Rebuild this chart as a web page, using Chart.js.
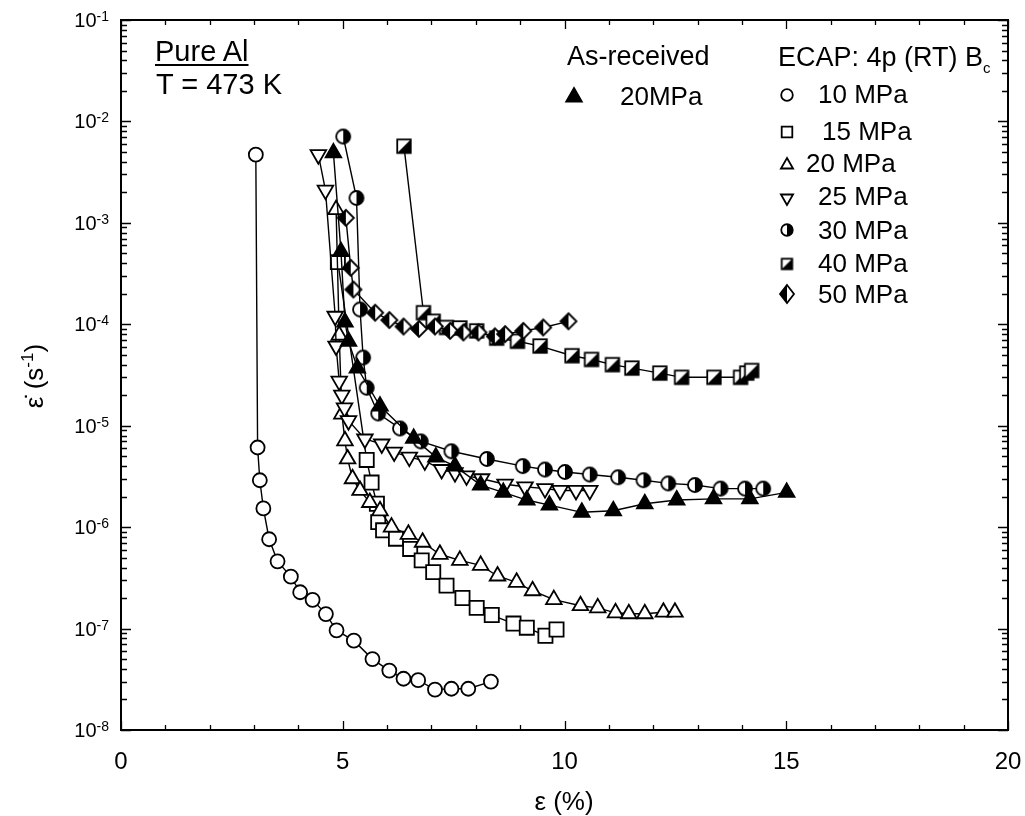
<!DOCTYPE html>
<html><head><meta charset="utf-8">
<script src="https://cdn.jsdelivr.net/npm/chart.js@4/dist/chart.umd.min.js"></script>
<style>
body{margin:0;background:#fff;}
#wrap{position:relative;width:1025px;height:816px;overflow:hidden;font-family:"Liberation Sans",Arial,sans-serif;color:#000;background:#fff;}
#wrap canvas{position:absolute;left:0;top:0;}
.t{position:absolute;white-space:nowrap;line-height:1;}
</style></head>
<body><div id="wrap"><canvas id="c" width="1025" height="816"></canvas></div>
<script>
// ---------- DATA ----------
const xTickValues = [0, 5, 10, 15, 20];
const yDecadeExponents = [-8, -7, -6, -5, -4, -3, -2, -1];

const eps10  = [3.04,3.08,3.13,3.21,3.34,3.53,3.83,4.04,4.32,4.62,4.86,5.25,5.67,6.05,6.37,6.70,7.08,7.45,7.83,8.34];
const rate10 = [4.7e-3,6.1e-6,2.9e-6,1.53e-6,7.6e-7,4.6e-7,3.25e-7,2.28e-7,1.92e-7,1.39e-7,9.6e-8,7.6e-8,5.0e-8,3.85e-8,3.2e-8,3.1e-8,2.5e-8,2.55e-8,2.55e-8,3.0e-8];

const eps15  = [4.89,5.54,5.65,5.77,5.80,5.91,6.20,6.52,6.78,7.04,7.34,7.70,8.02,8.36,8.85,9.15,9.57,9.82];
const rate15 = [4.1e-4,4.6e-6,2.75e-6,1.7e-6,1.12e-6,9.3e-7,7.7e-7,6.1e-7,4.7e-7,3.6e-7,2.65e-7,2.0e-7,1.6e-7,1.36e-7,1.12e-7,1.02e-7,8.5e-8,9.8e-8];

const eps20  = [4.85,4.92,4.98,5.05,5.11,5.22,5.39,5.61,5.84,6.10,6.48,6.80,7.19,7.64,8.11,8.49,8.92,9.28,9.76,10.36,10.75,11.15,11.45,11.81,12.23,12.49];
const rate20 = [1.35e-3,7.8e-5,1.3e-5,7.1e-6,4.7e-6,3.0e-6,2.3e-6,1.75e-6,1.45e-6,1.0e-6,8.5e-7,7.1e-7,5.4e-7,4.7e-7,4.2e-7,3.3e-7,2.86e-7,2.36e-7,1.93e-7,1.68e-7,1.6e-7,1.43e-7,1.4e-7,1.4e-7,1.45e-7,1.45e-7];

const eps25  = [4.45,4.61,4.83,4.85,4.92,4.98,5.04,5.13,5.50,5.88,6.16,6.50,6.85,7.23,7.53,7.79,8.13,8.66,9.11,9.56,9.90,10.26,10.57];
const rate25 = [4.7e-3,2.1e-3,1.2e-4,6.1e-5,2.75e-5,2.0e-5,1.5e-5,1.12e-5,7.4e-6,6.6e-6,5.5e-6,4.9e-6,4.5e-6,3.7e-6,3.45e-6,3.2e-6,3.0e-6,2.65e-6,2.5e-6,2.4e-6,2.3e-6,2.3e-6,2.3e-6];

const eps30  = [5.01,5.31,5.39,5.46,5.54,5.80,6.29,6.76,7.45,8.25,9.06,9.56,10.01,10.57,11.21,11.78,12.34,12.94,13.52,14.07,14.48];
const rate30 = [7.1e-3,1.76e-3,1.4e-4,4.7e-5,2.37e-5,1.32e-5,9.4e-6,7.0e-6,5.6e-6,4.7e-6,4.0e-6,3.7e-6,3.5e-6,3.3e-6,3.1e-6,2.9e-6,2.7e-6,2.6e-6,2.4e-6,2.4e-6,2.4e-6];

const eps40  = [6.38,6.82,7.04,7.34,7.64,8.02,8.47,8.94,9.45,10.17,10.61,11.08,11.52,12.15,12.64,13.37,13.97,14.11,14.22];
const rate40 = [5.7e-3,1.3e-4,1.07e-4,9.3e-5,9.2e-5,8.6e-5,7.3e-5,6.8e-5,6.1e-5,4.9e-5,4.5e-5,4.0e-5,3.7e-5,3.3e-5,3.0e-5,3.0e-5,3.0e-5,3.3e-5,3.5e-5];

const eps50  = [5.07,5.18,5.24,5.73,6.05,6.37,6.72,7.08,7.42,7.72,8.06,8.43,8.66,9.07,9.52,10.09];
const rate50 = [1.12e-3,3.6e-4,2.2e-4,1.3e-4,1.1e-4,9.5e-5,9.0e-5,9.5e-5,8.6e-5,8.3e-5,8.3e-5,7.6e-5,8.0e-5,8.6e-5,9.3e-5,1.07e-4];

const epsAR  = [4.79,4.96,5.05,5.13,5.33,5.84,6.6,7.1,7.53,8.11,8.62,9.15,9.66,10.39,11.10,11.81,12.53,13.36,14.18,15.01];
const rateAR = [4.9e-3,5.2e-4,1.05e-4,6.8e-5,3.7e-5,1.56e-5,7.5e-6,4.9e-6,4.0e-6,2.6e-6,2.2e-6,1.85e-6,1.65e-6,1.4e-6,1.45e-6,1.7e-6,1.85e-6,1.9e-6,1.9e-6,2.2e-6];

const ecapLabels = ['10 MPa','15 MPa','20 MPa','25 MPa','30 MPa','40 MPa','50 MPa'];
const asReceivedLabel = '20MPa';

// ---------- marker images ----------
function mk(s){const c=document.createElement('canvas');c.width=c.height=s;return c;}
function halfCircle(d,lw){
  const s=Math.ceil(d+lw+2), c=mk(s), g=c.getContext('2d'), r=d/2, cx=s/2, cy=s/2;
  g.beginPath();g.arc(cx,cy,r,0,2*Math.PI);g.fillStyle='#fff';g.fill();
  g.beginPath();g.moveTo(cx,cy-r);g.arc(cx,cy,r,-Math.PI/2,Math.PI/2);g.closePath();g.fillStyle='#000';g.fill();
  g.beginPath();g.arc(cx,cy,r,0,2*Math.PI);g.lineWidth=lw;g.strokeStyle='#000';g.stroke();
  return c;
}
function halfSquare(a,lw){
  const s=Math.ceil(a+lw+2), c=mk(s), g=c.getContext('2d'), x0=(s-a)/2, y0=(s-a)/2;
  g.fillStyle='#fff';g.fillRect(x0,y0,a,a);
  g.beginPath();g.moveTo(x0,y0+a);g.lineTo(x0+a,y0+a);g.lineTo(x0+a,y0);g.closePath();g.fillStyle='#000';g.fill();
  g.lineWidth=lw;g.strokeStyle='#000';g.strokeRect(x0,y0,a,a);
  return c;
}
function halfDiamond(w,h,lw){
  const s=Math.ceil(Math.max(w,h)+lw+2), c=mk(s), g=c.getContext('2d'), cx=s/2, cy=s/2;
  g.beginPath();g.moveTo(cx,cy-h/2);g.lineTo(cx+w/2,cy);g.lineTo(cx,cy+h/2);g.lineTo(cx-w/2,cy);g.closePath();
  g.fillStyle='#fff';g.fill();
  g.beginPath();g.moveTo(cx,cy-h/2);g.lineTo(cx,cy+h/2);g.lineTo(cx-w/2,cy);g.closePath();g.fillStyle='#000';g.fill();
  g.beginPath();g.moveTo(cx,cy-h/2);g.lineTo(cx+w/2,cy);g.lineTo(cx,cy+h/2);g.lineTo(cx-w/2,cy);g.closePath();
  g.lineWidth=lw;g.strokeStyle='#000';g.lineJoin='miter';g.stroke();
  return c;
}
const LW=1.8;
const imgHC = halfCircle(14,LW), imgHS = halfSquare(13.5,LW), imgHD = halfDiamond(16,16,LW);
const legHC = halfCircle(11.5,LW), legHS = halfSquare(10.5,LW), legHD = halfDiamond(14,18,LW);

function pts(xs,ys){return xs.map((x,i)=>({x:x,y:ys[i]}));}
function ds(label,xs,ys,style,extra){
  return Object.assign({label:label,data:pts(xs,ys),showLine:true,borderColor:'#000',borderWidth:1.4,
    pointStyle:style,pointRadius:7,pointBorderColor:'#000',pointBorderWidth:LW,pointBackgroundColor:'#fff',
    tension:0,clip:false},extra||{});
}
const datasets = [
  ds(asReceivedLabel,epsAR,rateAR,'triangle',{pointRadius:9,pointBackgroundColor:'#000'}),
  ds(ecapLabels[4],eps30,rate30,imgHC),
  ds(ecapLabels[6],eps50,rate50,imgHD),
  ds(ecapLabels[5],eps40,rate40,imgHS),
  ds(ecapLabels[3],eps25,rate25,'triangle',{pointRadius:9,pointRotation:180}),
  ds(ecapLabels[2],eps20,rate20,'triangle',{pointRadius:9}),
  ds(ecapLabels[1],eps15,rate15,'rect',{pointRadius:10}),
  ds(ecapLabels[0],eps10,rate10,'circle',{pointRadius:7})
];

// ---------- frame + inward ticks + legend markers ----------
const framePlugin = {
  id:'frame',
  afterDatasetsDraw(chart){
    const g=chart.ctx, a=chart.chartArea, xs=chart.scales.x, ys=chart.scales.y;
    g.save();
    g.strokeStyle='#000';g.lineWidth=2;
    g.strokeRect(a.left,a.top,a.right-a.left,a.bottom-a.top);
    g.lineWidth=1.3;
    g.beginPath();
    for(let v=0; v<=20; v++){
      const px=Math.round(xs.getPixelForValue(v))+0.5, L=(v%5===0)?9:5;
      g.moveTo(px,a.bottom);g.lineTo(px,a.bottom-L);
      g.moveTo(px,a.top);g.lineTo(px,a.top+L);
    }
    for(let e=-8; e<=-1; e++){
      for(let m=1; m<=9; m++){
        if(e===-1 && m>1) break;
        const py=Math.round(ys.getPixelForValue(m*Math.pow(10,e)))+0.5, L=(m===1)?10:6;
        g.moveTo(a.left,py);g.lineTo(a.left+L,py);
        g.moveTo(a.right,py);g.lineTo(a.right-L,py);
      }
    }
    g.stroke();
    // legend markers
    const H=Chart.helpers;
    const base={borderWidth:LW,rotation:0};
    g.strokeStyle='#000';g.lineWidth=LW;
    g.fillStyle='#000';
    H.drawPoint(g,Object.assign({},base,{pointStyle:'triangle',radius:9}),574,97);
    g.fillStyle='#fff';
    H.drawPoint(g,Object.assign({},base,{pointStyle:'circle',radius:5.8}),787,95);
    H.drawPoint(g,Object.assign({},base,{pointStyle:'rect',radius:7.5}),787,132);
    H.drawPoint(g,Object.assign({},base,{pointStyle:'triangle',radius:7}),787,165);
    H.drawPoint(g,Object.assign({},base,{pointStyle:'triangle',radius:7,rotation:180}),787,198);
    g.drawImage(legHC,787-legHC.width/2,230-legHC.height/2);
    g.drawImage(legHS,787-legHS.width/2,264-legHS.height/2);
    g.drawImage(legHD,787-legHD.width/2,294-legHD.height/2);
    g.restore();
  }
};

const chart = new Chart(document.getElementById('c').getContext('2d'), {
  type:'scatter',
  data:{datasets:datasets},
  options:{
    responsive:false, animation:false, devicePixelRatio:1,
    layout:{padding:{left:0,top:20,right:17,bottom:0}},
    plugins:{legend:{display:false},tooltip:{enabled:false}},
    scales:{
      x:{type:'linear',position:'bottom',min:0,max:20,
        afterBuildTicks:s=>{s.ticks=xTickValues.map(v=>({value:v}));},
        ticks:{color:'#000',font:{family:'Liberation Sans',size:24},padding:10,maxRotation:0,autoSkip:false},
        grid:{display:false},border:{display:false},
        afterFit:s=>{s.height=86;s.paddingLeft=0;s.paddingRight=0;}},
      y:{type:'logarithmic',position:'left',min:1e-8,max:1e-1,
        ticks:{display:false},grid:{display:false},border:{display:false},
        afterFit:s=>{s.width=121;s.paddingTop=0;s.paddingBottom=0;}}
    }
  },
  plugins:[framePlugin]
});

// ---------- HTML text ----------
const wrap=document.getElementById('wrap');
function place(html,left,baseline,fs,extra){
  const d=document.createElement('div');d.className='t';
  d.style.left=left+'px';d.style.top=(baseline-0.8465*fs)+'px';d.style.fontSize=fs+'px';
  if(extra) d.style.cssText+=extra;
  d.innerHTML=html;wrap.appendChild(d);return d;
}
// y tick labels from library scale
const ysc=chart.scales.y;
yDecadeExponents.forEach(e=>{
  const y=ysc.getPixelForValue(Math.pow(10,e));
  const d=document.createElement('div');
  d.style.cssText='position:absolute;left:0;width:109px;text-align:right;height:24px;line-height:24px;font-size:20px;white-space:nowrap;top:'+(y-12)+'px';
  d.innerHTML='10<span style="font-size:14px;position:relative;top:-6px">'+e+'</span>';
  wrap.appendChild(d);
});
// axis titles
const xt=document.createElement('div');
xt.style.cssText='position:absolute;left:564px;top:802px;transform:translate(-50%,-50%);font-size:26px;white-space:nowrap;line-height:1.2';
xt.innerHTML='&epsilon; (%)';wrap.appendChild(xt);
const yt=document.createElement('div');
yt.style.cssText='position:absolute;left:35px;top:376px;transform:translate(-50%,-50%) rotate(-90deg);font-size:26px;white-space:nowrap;line-height:1.2';
yt.innerHTML='&epsilon;&#775; (s<span style="font-size:17px;position:relative;top:-10px">-1</span>)';wrap.appendChild(yt);
// annotations
place('Pure Al',155,62,29,'text-decoration:underline;text-decoration-thickness:2px;text-underline-offset:3px;');
place('T = 473 K',156,95,29);
place('As-received',567,66,27);
place(asReceivedLabel,620,105,26);
place('ECAP: 4p (RT) B<span style="font-size:15px;position:relative;top:7px">c</span>',778,67,27);
const rowLeft=[818,822,806,818,818,818,818], rowBase=[103,140,172,205,239,272,303];
ecapLabels.forEach((t,i)=>place(t,rowLeft[i],rowBase[i],26));
</script></body></html>
